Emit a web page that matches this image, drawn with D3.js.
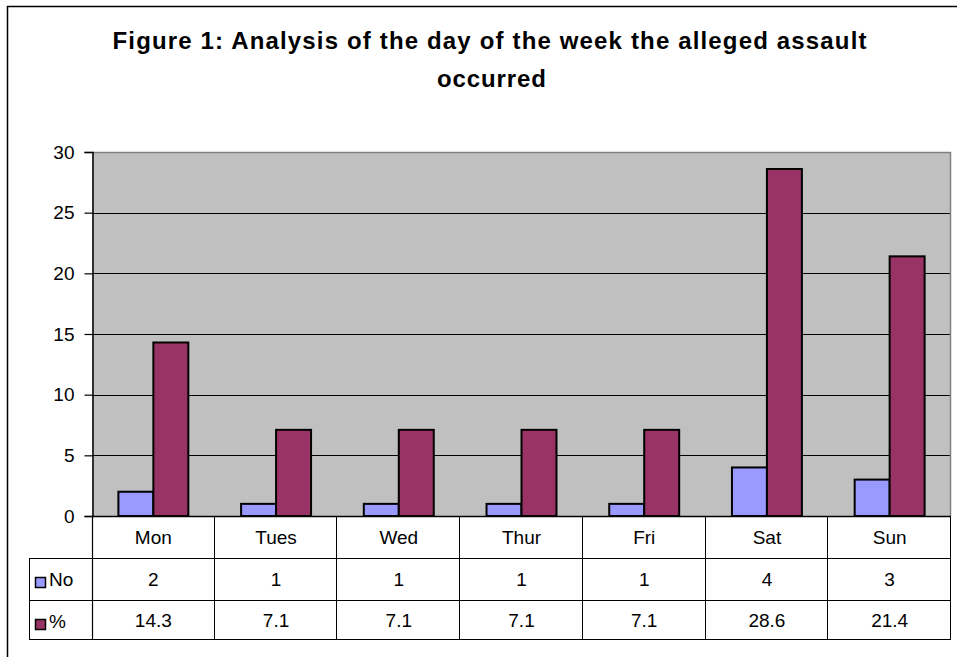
<!DOCTYPE html>
<html>
<head>
<meta charset="utf-8">
<script src="https://cdn.jsdelivr.net/npm/d3@7"></script>
<style>
  html, body { margin: 0; padding: 0; background: #fff; }
  svg { display: block; }
  text { font-family: "Liberation Sans", Arial, sans-serif; fill: #000; }
</style>
</head>
<body>
<script>
// ---- Data ----
const categories = ["Mon", "Tues", "Wed", "Thur", "Fri", "Sat", "Sun"];
const seriesNames = ["No", "%"];
const noValues = [2, 1, 1, 1, 1, 4, 3];
const pctValues = [14.3, 7.1, 7.1, 7.1, 7.1, 28.6, 21.4];
const pctLabels = ["14.3", "7.1", "7.1", "7.1", "7.1", "28.6", "21.4"];
const yTicks = [0, 5, 10, 15, 20, 25, 30];
const titleLines = ["Figure 1: Analysis of the day of the week the alleged assault", "occurred"];

const seriesColors = { "No": "#9999FF", "%": "#993366" };

const W = 957, H = 657;
const svg = d3.select("body").append("svg").attr("width", W).attr("height", H);

// outer chart border (top and left visible)
svg.append("line").attr("x1", 7).attr("x2", W).attr("y1", 6.5).attr("y2", 6.5)
  .attr("stroke", "#000").attr("stroke-width", 1.5);
svg.append("line").attr("x1", 7.5).attr("x2", 7.5).attr("y1", 6).attr("y2", H)
  .attr("stroke", "#000").attr("stroke-width", 1.5);

// title
const title = svg.append("g");
title.append("text").attr("x", 489.5).attr("y", 49).attr("text-anchor", "middle")
  .attr("font-size", 24).attr("font-weight", "bold")
  .attr("textLength", 754).attr("lengthAdjust", "spacing")
  .text(titleLines[0]);
title.append("text").attr("x", 491.5).attr("y", 87).attr("text-anchor", "middle")
  .attr("font-size", 24).attr("font-weight", "bold")
  .attr("textLength", 109).attr("lengthAdjust", "spacing")
  .text(titleLines[1]);

// plot geometry
const pLeft = 92, pRight = 951, pTop = 152, pBottom = 516;
const x = d3.scaleBand().domain(categories).range([pLeft, pRight]).paddingInner(0).paddingOuter(0);
const y = d3.scaleLinear().domain([0, 30]).range([pBottom, pTop]);
const groupW = x.bandwidth() * 0.57;
const xs = d3.scaleBand().domain(seriesNames).range([-groupW / 2, groupW / 2]).padding(0);

// plot background
svg.append("rect").attr("x", pLeft).attr("y", pTop).attr("width", pRight - pLeft).attr("height", pBottom - pTop)
  .attr("fill", "#C0C0C0");

// gridlines
svg.append("g").selectAll("line").data(yTicks.filter(d => d > 0 && d < 30)).join("line")
  .attr("x1", pLeft).attr("x2", pRight)
  .attr("y1", d => Math.round(y(d)) + 0.5).attr("y2", d => Math.round(y(d)) + 0.5)
  .attr("stroke", "#000").attr("stroke-width", 1);

// plot border top/right gray
svg.append("path")
  .attr("d", `M${pLeft},${pTop + 0.5}H${pRight - 0.5}V${pBottom}`)
  .attr("fill", "none").attr("stroke", "#808080").attr("stroke-width", 1.5);

// bars
const rows = categories.map((c, i) => ({ cat: c, vals: [{ s: "No", v: noValues[i] }, { s: "%", v: pctValues[i] }] }));
const bg = svg.append("g").selectAll("g").data(rows).join("g")
  .attr("transform", d => `translate(${x(d.cat) + x.bandwidth() / 2},0)`);
bg.selectAll("rect").data(d => d.vals).join("rect")
  .attr("x", d => xs(d.s))
  .attr("y", d => y(d.v))
  .attr("width", xs.bandwidth())
  .attr("height", d => y(0) - y(d.v))
  .attr("fill", d => seriesColors[d.s])
  .attr("stroke", "#000").attr("stroke-width", 2);

// y axis
const yAxis = d3.axisLeft(y).tickValues(yTicks).tickSize(8).tickPadding(10).tickFormat(d3.format("d"));
const ya = svg.append("g").attr("transform", `translate(${pLeft + 0.5},0)`).call(yAxis);
ya.select(".domain").attr("stroke", "#000").attr("stroke-width", 1.5);
ya.selectAll(".tick line").attr("stroke", "#000").attr("stroke-width", 1.2);
ya.selectAll(".tick text").attr("font-size", 19).attr("font-family", "Liberation Sans, Arial, sans-serif").attr("fill", "#000");

// data table
const rowBot = 639;
const tableLeft = 29;
const tg = svg.append("g");
tg.append("line").attr("x1", pLeft).attr("x2", pRight).attr("y1", pBottom + 0.5).attr("y2", pBottom + 0.5).attr("stroke", "#000").attr("stroke-width", 1.5);
[558, 600, rowBot].forEach(yy => {
  tg.append("line").attr("x1", tableLeft).attr("x2", pRight).attr("y1", yy + 0.5).attr("y2", yy + 0.5)
    .attr("stroke", "#000").attr("stroke-width", 1);
});
tg.append("line").attr("x1", tableLeft + 0.5).attr("x2", tableLeft + 0.5).attr("y1", 558).attr("y2", rowBot + 1).attr("stroke", "#000");
tg.append("line").attr("x1", pLeft + 0.5).attr("x2", pLeft + 0.5).attr("y1", pBottom).attr("y2", rowBot + 1).attr("stroke", "#000").attr("stroke-width", 1.2);
tg.selectAll("line.col").data(categories).join("line").attr("class", "col")
  .attr("x1", d => Math.round(x(d) + x.bandwidth()) - 0.5).attr("x2", d => Math.round(x(d) + x.bandwidth()) - 0.5)
  .attr("y1", pBottom).attr("y2", rowBot + 1).attr("stroke", "#000");

tg.selectAll("text.cat").data(categories).join("text").attr("class", "cat")
  .attr("x", d => x(d) + x.bandwidth() / 2).attr("y", 544).attr("text-anchor", "middle")
  .attr("font-size", 19).text(d => d);
tg.selectAll("text.no").data(noValues).join("text").attr("class", "no")
  .attr("x", (d, i) => x(categories[i]) + x.bandwidth() / 2).attr("y", 586).attr("text-anchor", "middle")
  .attr("font-size", 19).text(d => d);
tg.selectAll("text.pc").data(pctLabels).join("text").attr("class", "pc")
  .attr("x", (d, i) => x(categories[i]) + x.bandwidth() / 2).attr("y", 627).attr("text-anchor", "middle")
  .attr("font-size", 19).text(d => d);

// legend keys
const legRows = [{ s: "No", y0: 558 }, { s: "%", y0: 600 }];
legRows.forEach(r => {
  tg.append("rect").attr("x", 35.5).attr("y", r.y0 + 19.5).attr("width", 10).attr("height", 10)
    .attr("fill", seriesColors[r.s]).attr("stroke", "#000").attr("stroke-width", 1.5);
  tg.append("text").attr("x", 49).attr("y", r.y0 + 28).attr("font-size", 19).text(r.s);
});
</script>
</body>
</html>
